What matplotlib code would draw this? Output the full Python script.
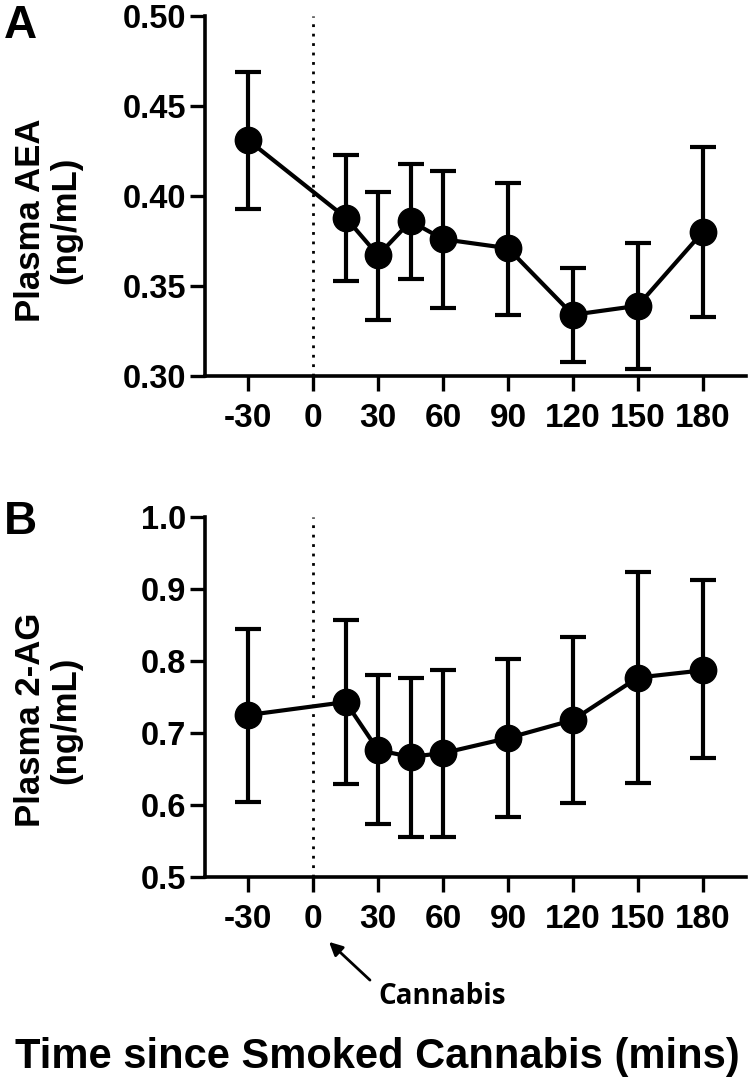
import matplotlib
matplotlib.use("Agg")
import matplotlib.pyplot as plt

# ---- data ----
time_points = [-30, 15, 30, 45, 60, 90, 120, 150, 180]
x_ticks = [-30, 0, 30, 60, 90, 120, 150, 180]

aea_mean = [0.431, 0.388, 0.367, 0.386, 0.376, 0.371, 0.334, 0.339, 0.380]
aea_upper = [0.469, 0.423, 0.402, 0.418, 0.414, 0.407, 0.360, 0.374, 0.427]
aea_lower = [0.393, 0.353, 0.331, 0.354, 0.338, 0.334, 0.308, 0.304, 0.333]
aea_ticks = [0.30, 0.35, 0.40, 0.45, 0.50]

ag_mean = [0.725, 0.743, 0.676, 0.667, 0.672, 0.693, 0.718, 0.777, 0.787]
ag_upper = [0.845, 0.857, 0.780, 0.776, 0.788, 0.803, 0.833, 0.924, 0.912]
ag_lower = [0.604, 0.629, 0.574, 0.556, 0.556, 0.583, 0.603, 0.630, 0.665]
ag_ticks = [0.5, 0.6, 0.7, 0.8, 0.9, 1.0]

W, H = 750, 1083
fig = plt.figure(figsize=(W / 100, H / 100), dpi=100)
plt.rcParams['font.family'] = ['Liberation Sans', 'DejaVu Sans']


def px_ax(l, t, r, b):
    return [l / W, 1 - b / H, (r - l) / W, (b - t) / H]


def draw(ax, mean, lo, hi, yticks, fmt):
    yerr = [[m - l for m, l in zip(mean, lo)], [h - m for m, h in zip(mean, hi)]]
    ax.axvline(0, color='black', linestyle=(0, (1, 2.4)), linewidth=2.0, zorder=1)
    ax.errorbar(time_points, mean, yerr=yerr, color='black', linewidth=3,
                elinewidth=3, capsize=9.5, capthick=3, marker='o', markersize=19,
                zorder=3)
    ax.set_xlim(-50, 200)
    ax.set_ylim(yticks[0], yticks[-1])
    ax.set_yticks(yticks)
    ax.set_yticklabels([fmt.format(v) for v in yticks], fontsize=23.5, fontweight='bold')
    ax.set_xticks(x_ticks)
    ax.set_xticklabels([str(v) for v in x_ticks], fontsize=24, fontweight='bold')
    for s in ['top', 'right']:
        ax.spines[s].set_visible(False)
    for s in ['left', 'bottom']:
        ax.spines[s].set_linewidth(2.6)
    ax.tick_params(axis='both', width=2.4, length=10.5, direction='out')
    ax.tick_params(axis='y', pad=3)
    ax.tick_params(axis='x', pad=9)


axA = fig.add_axes(px_ax(205, 16, 746, 376))
draw(axA, aea_mean, aea_lower, aea_upper, aea_ticks, '{:.2f}')
axB = fig.add_axes(px_ax(205, 517, 746, 877))
draw(axB, ag_mean, ag_lower, ag_upper, ag_ticks, '{:.1f}')

# y labels
fig.text(48 / W, 1 - 220 / H, 'Plasma AEA\n(ng/mL)', rotation=90, ha='center',
         va='center', multialignment='center', fontsize=25, fontweight='bold',
         linespacing=1.1)
fig.text(48 / W, 1 - 720 / H, 'Plasma 2-AG\n(ng/mL)', rotation=90, ha='center',
         va='center', multialignment='center', fontsize=25, fontweight='bold',
         linespacing=1.1)

# panel letters
fig.text(4 / W, 1 - 4 / H, 'A', fontsize=33, fontweight='bold', ha='left', va='top')
fig.text(4 / W, 1 - 500 / H, 'B', fontsize=33, fontweight='bold', ha='left', va='top')

# annotation
fig.text(442 / W, 1 - 996 / H, 'Cannabis', fontsize=20, fontweight='bold',
         family=['Open Sans', 'DejaVu Sans'], ha='center', va='center')
fig.add_artist(matplotlib.patches.FancyArrowPatch(
    (372 / W, 1 - 982 / H), (327 / W, 1 - 940 / H), transform=fig.transFigure,
    arrowstyle='-|>', mutation_scale=20, color='black', linewidth=2.0))

# x label
fig.text(377 / W, 1 - 1057 / H, 'Time since Smoked Cannabis (mins)', fontsize=30,
         fontweight='bold', ha='center', va='center')

fig.savefig('out.png', dpi=100)
